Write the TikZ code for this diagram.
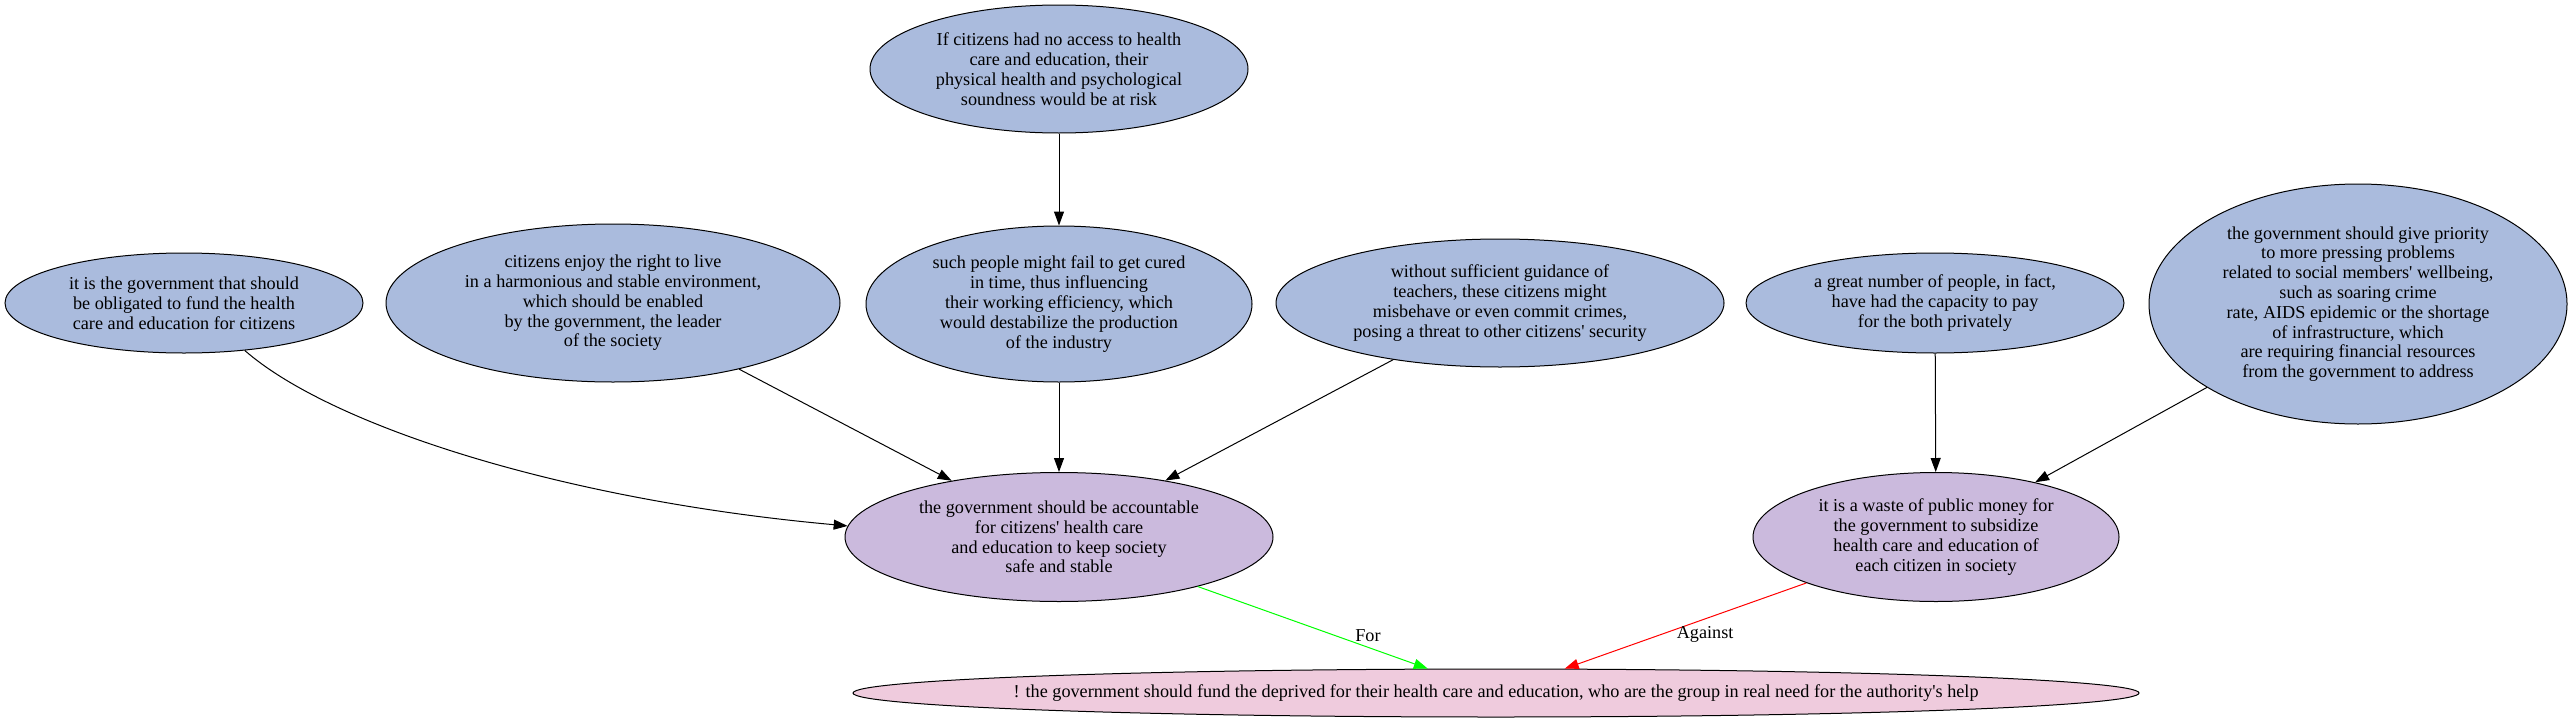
\documentclass[tikz,border=0pt]{standalone}
\usepackage{fontspec}
\setmainfont{Liberation Serif}
\usetikzlibrary{positioning,arrows.meta,shapes.geometric}

\definecolor{premisefill}{HTML}{AABBDD}
\definecolor{claimfill}{HTML}{CBBADD}
\definecolor{thesisfill}{HTML}{EFCBDD}
\newcommand{\apos}{\textquotesingle}

\begin{document}
\begin{tikzpicture}[x=1pt, y=-1pt, >={Triangle[length=14pt,width=10pt]},
      line width=1pt,
      font=\fontsize{18.2}{19.8}\selectfont,
      arg/.style={ellipse, draw, inner sep=0pt, align=center},
      premise/.style={arg, fill=premisefill},
      claim/.style={arg, fill=claimfill},
      thesis/.style={arg, fill=thesisfill},
      lbl/.style={inner sep=1pt, text=black}]
      \useasboundingbox[fill=white] (0,0) rectangle (2570,723);
      % top row
      \node[premise, minimum width=378pt, minimum height=128pt] (risk) at (1059,69) {If citizens had no access to health\\care and education, their\\physical health and psychological\\soundness would be at risk};
      % middle row
      \node[premise, minimum width=358pt, minimum height=100pt] (obligated) at (184,303) {it is the government that should\\be obligated to fund the health\\care and education for citizens};
      \node[premise, minimum width=454pt, minimum height=158pt] (harmony) at (613,303) {citizens enjoy the right to live\\in a harmonious and stable environment,\\which should be enabled\\by the government, the leader\\of the society};
      \node[premise, minimum width=386pt, minimum height=156pt] (cured) at (1059,304) {such people might fail to get cured\\in time, thus influencing\\their working efficiency, which\\would destabilize the production\\of the industry};
      \node[premise, minimum width=448pt, minimum height=128pt] (guidance) at (1500,303) {without sufficient guidance of\\teachers, these citizens might\\misbehave or even commit crimes,\\posing a threat to other citizens\apos{} security};
      \node[premise, minimum width=378pt, minimum height=100pt] (capacity) at (1935,303) {a great number of people, in fact,\\have had the capacity to pay\\for the both privately};
      \node[premise, minimum width=418pt, minimum height=240pt] (priority) at (2358,304) {the government should give priority\\to more pressing problems\\related to social members\apos{} wellbeing,\\such as soaring crime\\rate, AIDS epidemic or the shortage\\of infrastructure, which\\are requiring financial resources\\from the government to address};
      % claims
      \node[claim, minimum width=428pt, minimum height=129pt] (accountable) at (1059,537) {the government should be accountable\\for citizens\apos{} health care\\and education to keep society\\safe and stable};
      \node[claim, minimum width=366pt, minimum height=129pt] (waste) at (1936,537) {it is a waste of public money for\\the government to subsidize\\health care and education of\\each citizen in society};
      \node[thesis, minimum width=1286pt, minimum height=48pt] (main) at (1496,693) {\makebox[0pt]{! the government should fund the deprived for their health care and education, who are the group in real need for the authority\apos{}s help}};
      % supports
      \draw[->] (risk) -- (cured);
      \draw[->] (obligated.-38) .. controls (330,425) and (560,500) .. (accountable.177);
      \draw[->] (harmony) -- (accountable);
      \draw[->] (cured) -- (accountable);
      \draw[->] (guidance) -- (accountable);
      \draw[->] (capacity) -- (waste);
      \draw[->] (priority) -- (waste);
      \draw[->, green] (accountable) -- (main) node[lbl, pos=0.6, right=18pt] {For};
      \draw[->, red] (waste) -- (main) node[lbl, pos=0.6, right=14pt] {Against};
    \end{tikzpicture}
\end{document}
